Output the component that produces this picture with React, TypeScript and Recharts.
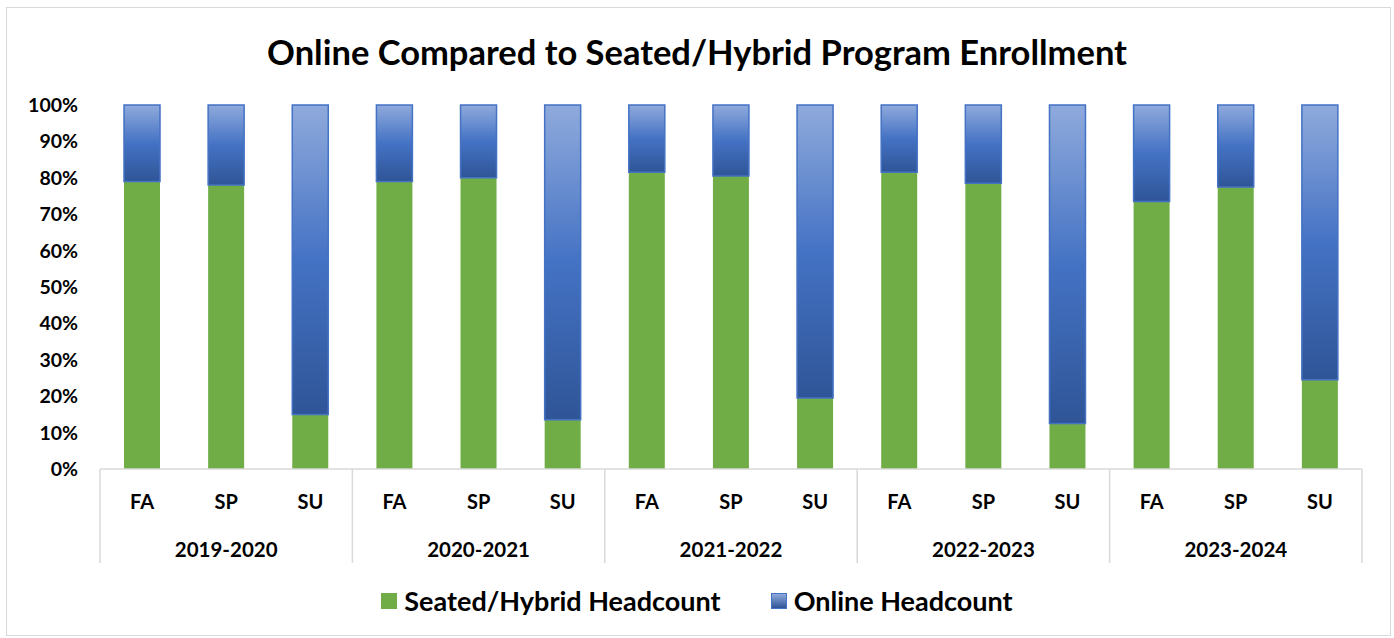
import React from "react"
import { Bar, BarChart, XAxis, YAxis } from "recharts"

const terms = ["FA", "SP", "SU", "FA", "SP", "SU", "FA", "SP", "SU", "FA", "SP", "SU", "FA", "SP", "SU"]
const years = [
  "2019-2020", "2019-2020", "2019-2020",
  "2020-2021", "2020-2021", "2020-2021",
  "2021-2022", "2021-2022", "2021-2022",
  "2022-2023", "2022-2023", "2022-2023",
  "2023-2024", "2023-2024", "2023-2024",
]
const seatedPct = [79, 78, 15, 79, 80, 13.5, 81.5, 80.5, 19.5, 81.5, 78.5, 12.5, 73.5, 77.5, 24.5]
const onlinePct = [21, 22, 85, 21, 20, 86.5, 18.5, 19.5, 80.5, 18.5, 21.5, 87.5, 26.5, 22.5, 75.5]
const yTicks = [0, 10, 20, 30, 40, 50, 60, 70, 80, 90, 100]

const data = terms.map((term, i) => ({
  key: `${years[i]}-${term}`,
  term,
  year: years[i],
  seated: seatedPct[i],
  online: onlinePct[i],
}))

const FONT = "Lato, 'Open Sans', sans-serif"
const GREEN = "#70ad47"
const GRID = "#d9d9d9"

const CHART_W = 1394
const CHART_H = 638
const PLOT_LEFT = 100
const PLOT_RIGHT = 1362
const BAND = (PLOT_RIGHT - PLOT_LEFT) / terms.length

function TermTick({ x, y, payload }: any) {
  return (
    <text x={x} y={y} dy="0.71em" textAnchor="middle" fill="#000" fontSize={20} fontWeight={700} fontFamily={FONT}>
      {terms[payload.index]}
    </text>
  )
}

function YearTick({ x, y, payload }: any) {
  const i = payload.index
  const top = y - 73
  const bottom = y + 21
  return (
    <g>
      {i % 3 === 0 && (
        <line x1={x - BAND / 2} x2={x - BAND / 2} y1={top} y2={bottom} stroke={GRID} strokeWidth={1.5} />
      )}
      {i === terms.length - 1 && (
        <line x1={x + BAND / 2} x2={x + BAND / 2} y1={top} y2={bottom} stroke={GRID} strokeWidth={1.5} />
      )}
      {i % 3 === 1 && (
        <text x={x} y={y} dy="0.71em" textAnchor="middle" fill="#000" fontSize={20.5} fontWeight={700} fontFamily={FONT}>
          {years[i]}
        </text>
      )}
    </g>
  )
}

function LegendSwatch({ color, gradient }: { color: string; gradient?: boolean }) {
  return (
    <span
      style={{
        display: "inline-block",
        width: 16,
        height: 16,
        marginRight: 7,
        boxSizing: "border-box",
        background: gradient ? "linear-gradient(#8faadc, #2f5597)" : color,
        border: gradient ? "1px solid #4472c4" : "none",
      }}
    />
  )
}

export default function App() {
  return (
    <div style={{ position: "fixed", left: 0, top: 0, width: CHART_W, height: CHART_H, background: "#fff", fontFamily: FONT }}>
      <div
        style={{
          position: "absolute",
          left: 6,
          top: 7,
          width: 1385,
          height: 629,
          border: `1.5px solid ${GRID}`,
          boxSizing: "border-box",
        }}
      />
      <div
        style={{
          position: "absolute",
          left: 0,
          top: 30,
          width: CHART_W,
          textAlign: "center",
          fontSize: 34.5,
          lineHeight: "44px",
          fontWeight: 700,
          color: "#000",
        }}
      >
        Online Compared to Seated/Hybrid Program Enrollment
      </div>
      <div style={{ position: "absolute", left: 0, top: 0 }}>
        <BarChart
          width={CHART_W}
          height={CHART_H}
          data={data}
          margin={{ top: 105, right: CHART_W - PLOT_RIGHT, bottom: 74, left: 0 }}
          barCategoryGap={0}
        >
          <defs>
            <linearGradient id="onlineFill" x1="0" y1="0" x2="0" y2="1">
              <stop offset="0%" stopColor="#8faadc" />
              <stop offset="50%" stopColor="#4472c4" />
              <stop offset="100%" stopColor="#2f5597" />
            </linearGradient>
          </defs>
          <YAxis
            width={PLOT_LEFT}
            domain={[0, 100]}
            ticks={yTicks}
            axisLine={false}
            tickLine={false}
            tickMargin={16}
            tickFormatter={(v: number) => `${v}%`}
            tick={{ fill: "#000", fontSize: 19.5, fontWeight: 700, fontFamily: FONT }}
          />
          <XAxis
            xAxisId="term"
            dataKey="key"
            height={45}
            interval={0}
            axisLine={{ stroke: GRID, strokeWidth: 1.5 }}
            tickLine={false}
            tickMargin={20}
            tick={<TermTick />}
          />
          <XAxis
            xAxisId="year"
            dataKey="key"
            height={50}
            interval={0}
            axisLine={false}
            tickLine={false}
            tickMargin={22}
            tick={<YearTick />}
          />
          <Bar
            dataKey="seated"
            stackId="a"
            xAxisId="term"
            fill={GREEN}
            barSize={36}
            isAnimationActive={false}
          />
          <Bar
            dataKey="online"
            stackId="a"
            xAxisId="term"
            fill="url(#onlineFill)"
            stroke="#4472c4"
            strokeWidth={1.5}
            barSize={36}
            isAnimationActive={false}
          />
        </BarChart>
      </div>
      <div
        style={{
          position: "absolute",
          left: 0,
          top: 584,
          width: CHART_W,
          display: "flex",
          justifyContent: "center",
          alignItems: "center",
          fontSize: 27,
          fontWeight: 700,
          color: "#000",
        }}
      >
        <span style={{ display: "inline-flex", alignItems: "center", marginRight: 50 }}>
          <LegendSwatch color={GREEN} />
          Seated/Hybrid Headcount
        </span>
        <span style={{ display: "inline-flex", alignItems: "center" }}>
          <LegendSwatch color="#4472c4" gradient />
          Online Headcount
        </span>
      </div>
    </div>
  )
}
